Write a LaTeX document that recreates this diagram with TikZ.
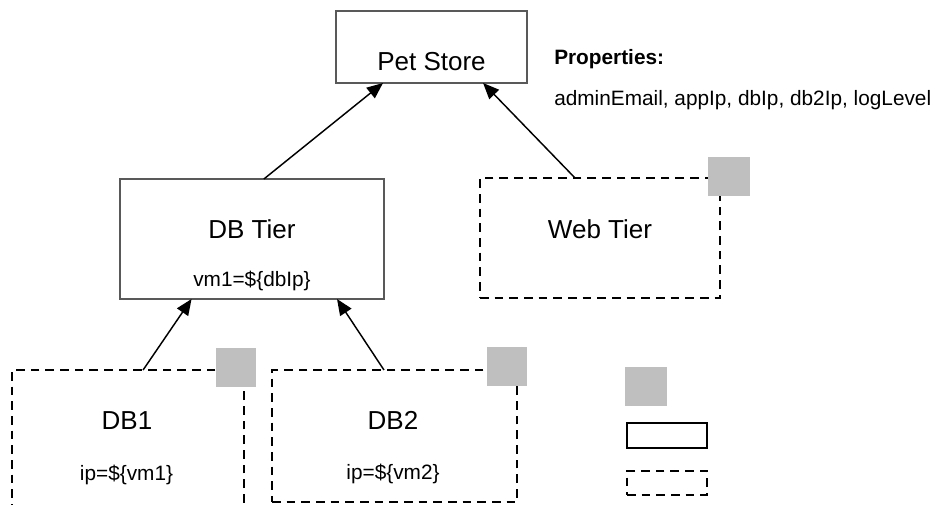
\documentclass[tikz,border=0pt]{standalone}
\usepackage{fontspec}
\setmainfont{Liberation Sans}
\usetikzlibrary{arrows.meta,calc}
\begin{document}
\begin{tikzpicture}[x=0.75pt,y=-0.75pt,
  solidbox/.style={draw=black!65,line width=0.8pt,inner sep=0pt,outer sep=0pt},
  dashbox/.style={draw=black,line width=1.1pt,dash pattern=on 6.5pt off 4.5pt,inner sep=0pt,outer sep=0pt},
  graysq/.style={fill=black!25,draw=none,inner sep=0pt,minimum width=30pt,minimum height=29.25pt},
  bigtxt/.style={font=\fontsize{19.5}{22}\selectfont,anchor=base,inner sep=0pt},
  smalltxt/.style={font=\fontsize{15.6}{18}\selectfont,anchor=base,inner sep=0pt},
  link/.style={line width=1.1pt,-{Triangle[length=12pt,width=10pt]}}]
\useasboundingbox (0,0) rectangle (942,504);
\clip (0,0) rectangle (942,504);
% boxes
\node[solidbox,minimum width=191*0.75pt,minimum height=72*0.75pt] (pet) at (431.5,47) {};
\node[solidbox,minimum width=264*0.75pt,minimum height=120*0.75pt] (dbtier) at (252,239) {};
\node[dashbox,minimum width=240*0.75pt,minimum height=120*0.75pt] (web) at (600,238) {};
\node[dashbox,minimum width=232*0.75pt,minimum height=150*0.75pt] (db1) at (128,445) {};
\node[dashbox,minimum width=245*0.75pt,minimum height=132*0.75pt] (db2) at (394.5,436) {};
% gray squares
\node[graysq] (g1) at (236,367) {};
\node[graysq] (g2) at (507,366.5) {};
\node[graysq,minimum width=31.5pt] (gw) at (729,176.5) {};
% legend
\node[graysq,minimum width=31.5pt] (lg) at (646,386.5) {};
\node[draw=black,line width=1.4pt,inner sep=0pt,minimum width=80*0.75pt,minimum height=25*0.75pt] (ls) at (667,435.5) {};
\node[dashbox,minimum width=80*0.75pt,minimum height=24*0.75pt] (ld) at (667,483) {};
% texts
\node[bigtxt] (tpet) at (431.5,70.7) {Pet Store};
\node[bigtxt] (tdbt) at (252,238.3) {DB Tier};
\node[smalltxt] (tvm) at (252,286.7) {vm1=\$\{dbIp\}};
\node[bigtxt] (tweb) at (600,238.3) {Web Tier};
\node[bigtxt] (tdb1) at (127,429) {DB1};
\node[smalltxt] (tip1) at (126.5,480) {ip=\$\{vm1\}};
\node[bigtxt] (tdb2) at (393,429.3) {DB2};
\node[smalltxt] (tip2) at (393,479.5) {ip=\$\{vm2\}};
\node[smalltxt,anchor=base west] (tprop) at (554,64) {\bfseries Properties:};
\node[smalltxt,anchor=base west] (tlist) at (554,105.7) {adminEmail, appIp, dbIp, db2Ip, logLevel};
% connectors
\draw[link] ($(dbtier.north west)!0.545!(dbtier.north east)$) -- ($(pet.south west)!0.246!(pet.south east)$);
\draw[link] ($(web.north west)!0.396!(web.north east)$) -- ($(pet.south west)!0.77!(pet.south east)$);
\draw[link] ($(db1.north west)!0.565!(db1.north east)$) -- ($(dbtier.south west)!0.271!(dbtier.south east)$);
\draw[link] ($(db2.north west)!0.457!(db2.north east)$) -- ($(dbtier.south west)!0.822!(dbtier.south east)$);
\end{tikzpicture}
\end{document}
